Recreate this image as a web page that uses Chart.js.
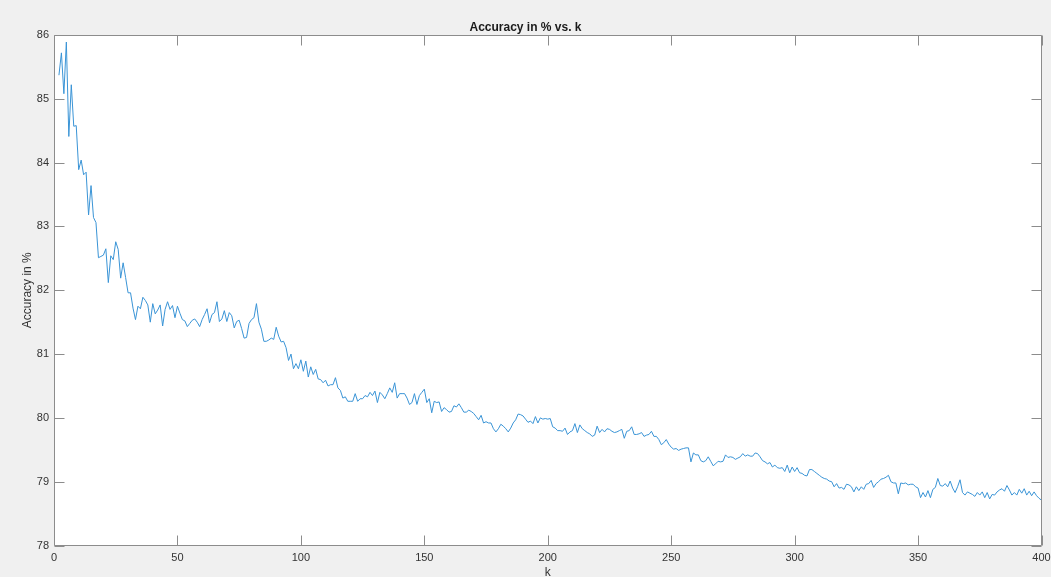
<!DOCTYPE html>
<html>
<head>
<meta charset="utf-8">
<title>Accuracy in % vs. k</title>
<script src="https://cdn.jsdelivr.net/npm/chart.js@4.4.1/dist/chart.umd.min.js"></script>
<style>
  html, body { margin: 0; padding: 0; background: #f0f0f0; }
  #wrap { width: 1051px; height: 577px; }
</style>
</head>
<body>
<div id="wrap"><canvas id="c" width="1051" height="577"></canvas></div>
<script>
// Classification accuracy (%) for each neighbour count k, starting at k = 2
const kStart = 2;
const accuracy = [
  85.37, 85.72, 85.08, 85.89, 84.41, 85.22, 84.57, 84.58, 83.89,
  84.04, 83.81, 83.85, 83.18, 83.64, 83.14, 83.06, 82.51, 82.53, 82.55,
  82.65, 82.12, 82.54, 82.48, 82.76, 82.64, 82.19, 82.43, 82.20, 81.96,
  81.96, 81.72, 81.54, 81.75, 81.71, 81.89, 81.84, 81.77, 81.50, 81.79,
  81.63, 81.69, 81.77, 81.44, 81.70, 81.82, 81.70, 81.76, 81.57, 81.75,
  81.64, 81.54, 81.52, 81.43, 81.48, 81.53, 81.55, 81.50, 81.43, 81.54,
  81.62, 81.71, 81.49, 81.62, 81.65, 81.82, 81.51, 81.55, 81.68, 81.51,
  81.65, 81.60, 81.41, 81.51, 81.53, 81.40, 81.25, 81.26, 81.48, 81.54,
  81.57, 81.79, 81.50, 81.39, 81.20, 81.20, 81.22, 81.25, 81.23, 81.42,
  81.28, 81.19, 81.20, 81.10, 80.90, 81.00, 80.77, 80.85, 80.77, 80.91,
  80.73, 80.89, 80.64, 80.80, 80.68, 80.76, 80.61, 80.60, 80.55, 80.59,
  80.50, 80.52, 80.52, 80.63, 80.47, 80.43, 80.31, 80.33, 80.26, 80.26,
  80.26, 80.38, 80.26, 80.30, 80.30, 80.35, 80.33, 80.40, 80.35, 80.42,
  80.24, 80.40, 80.36, 80.30, 80.38, 80.47, 80.40, 80.55, 80.31, 80.38,
  80.38, 80.38, 80.31, 80.21, 80.24, 80.38, 80.21, 80.35, 80.40, 80.45,
  80.24, 80.30, 80.08, 80.26, 80.24, 80.25, 80.10, 80.16, 80.13, 80.09,
  80.10, 80.19, 80.17, 80.22, 80.16, 80.09, 80.09, 80.12, 80.10, 80.07,
  80.02, 79.97, 80.04, 79.92, 79.94, 79.92, 79.92, 79.83, 79.78, 79.83,
  79.90, 79.87, 79.83, 79.78, 79.84, 79.92, 79.97, 80.06, 80.05, 80.03,
  79.98, 79.93, 79.95, 79.91, 80.02, 79.92, 80.00, 79.98, 79.99, 79.98,
  79.99, 79.86, 79.84, 79.80, 79.80, 79.79, 79.84, 79.74, 79.78, 79.80,
  79.91, 79.77, 79.89, 79.83, 79.80, 79.77, 79.75, 79.71, 79.73, 79.87,
  79.77, 79.82, 79.78, 79.83, 79.82, 79.79, 79.77, 79.78, 79.80, 79.82,
  79.68, 79.79, 79.80, 79.86, 79.74, 79.74, 79.75, 79.77, 79.71, 79.73,
  79.74, 79.79, 79.71, 79.71, 79.66, 79.58, 79.61, 79.66, 79.59, 79.54,
  79.51, 79.52, 79.49, 79.51, 79.52, 79.53, 79.53, 79.31, 79.45, 79.42,
  79.42, 79.33, 79.31, 79.33, 79.39, 79.32, 79.25, 79.28, 79.32, 79.31,
  79.32, 79.42, 79.38, 79.39, 79.38, 79.35, 79.37, 79.39, 79.44, 79.40,
  79.42, 79.40, 79.40, 79.45, 79.44, 79.39, 79.33, 79.31, 79.28, 79.30,
  79.23, 79.26, 79.22, 79.21, 79.22, 79.16, 79.26, 79.14, 79.23, 79.16,
  79.22, 79.14, 79.13, 79.10, 79.09, 79.19, 79.19, 79.16, 79.13, 79.10,
  79.07, 79.05, 79.04, 79.01, 79.00, 78.92, 78.97, 78.90, 78.91, 78.88,
  78.96, 78.95, 78.92, 78.84, 78.92, 78.86, 78.92, 78.88, 78.96, 78.97,
  79.02, 78.91, 78.97, 79.00, 79.04, 79.05, 79.07, 79.10, 79.00, 78.98,
  78.98, 78.81, 78.98, 78.97, 78.98, 78.95, 78.96, 78.96, 78.92, 78.90,
  78.75, 78.83, 78.76, 78.86, 78.75, 78.88, 78.91, 79.05, 78.94, 78.93,
  78.97, 78.92, 79.01, 78.90, 78.83, 78.92, 79.03, 78.83, 78.79, 78.84,
  78.82, 78.80, 78.77, 78.83, 78.79, 78.84, 78.75, 78.83, 78.73, 78.80,
  78.79, 78.84, 78.87, 78.89, 78.85, 78.94, 78.87, 78.79, 78.83, 78.79,
  78.88, 78.82, 78.89, 78.79, 78.85, 78.78, 78.84, 78.78, 78.74, 78.71
];
const kValues = accuracy.map((_, i) => kStart + i);

// Axis ranges and tick spacing
const xRange = [0, 400];
const xStep = 50;
const yRange = [78, 86];
const yStep = 1;

const FONT = '"Liberation Sans", Arial, Helvetica, sans-serif';
const TEXT = '#333333';
const AXIS = '#8c8c8c';

// Grey figure background, white axes box, and a boxed frame with inward ticks on all sides
const boxedAxes = {
  id: 'boxedAxes',
  beforeDraw(chart) {
    const { ctx, chartArea: a, width, height } = chart;
    ctx.save();
    ctx.fillStyle = '#f0f0f0';
    ctx.fillRect(0, 0, width, height);
    ctx.fillStyle = '#ffffff';
    ctx.fillRect(a.left, a.top, a.right - a.left, a.bottom - a.top);
    ctx.restore();
  },
  afterDraw(chart) {
    const { ctx, chartArea: a, scales } = chart;
    const L = Math.round(a.left) + 0.5, R = Math.round(a.right) - 0.5;
    const T = Math.round(a.top) + 0.5, B = Math.round(a.bottom) - 0.5;
    const len = 10;
    ctx.save();
    ctx.strokeStyle = AXIS;
    ctx.lineWidth = 1;
    ctx.beginPath();
    ctx.rect(L, T, R - L, B - T);
    scales.x.ticks.forEach(t => {
      const px = Math.round(scales.x.getPixelForValue(t.value)) + 0.5;
      ctx.moveTo(px, B); ctx.lineTo(px, B - len);
      ctx.moveTo(px, T); ctx.lineTo(px, T + len);
    });
    scales.y.ticks.forEach(t => {
      const py = Math.round(scales.y.getPixelForValue(t.value)) + 0.5;
      ctx.moveTo(L, py); ctx.lineTo(L + len, py);
      ctx.moveTo(R, py); ctx.lineTo(R - len, py);
    });
    ctx.stroke();
    ctx.restore();
  }
};

new Chart(document.getElementById('c'), {
  type: 'line',
  data: {
    datasets: [{
      data: kValues.map((k, i) => ({ x: k, y: accuracy[i] })),
      borderColor: '#3a94d6',
      borderWidth: 1,
      pointRadius: 0,
      tension: 0,
      fill: false
    }]
  },
  options: {
    responsive: false,
    animation: false,
    devicePixelRatio: 1,
    layout: { padding: { left: 0, right: 0, top: 0, bottom: 0 } },
    plugins: {
      legend: { display: false },
      tooltip: { enabled: false },
      title: {
        display: true,
        text: 'Accuracy in % vs. k',
        color: '#1a1a1a',
        font: { family: FONT, size: 12, weight: 'bold', lineHeight: 1.1 },
        padding: { top: 21, bottom: 0.8 }
      }
    },
    scales: {
      x: {
        type: 'linear',
        min: xRange[0], max: xRange[1],
        grid: { display: false, drawTicks: false },
        border: { display: false },
        ticks: { stepSize: xStep, color: TEXT, padding: 6, maxRotation: 0,
                 font: { family: FONT, size: 11 } },
        title: { display: true, text: 'k', color: TEXT,
                 font: { family: FONT, size: 12, lineHeight: 1 },
                 padding: { top: 0, bottom: -2 } },
        afterFit(scale) {
          scale.height = 31.5;
          scale.paddingRight = 9.5;
        }
      },
      y: {
        type: 'linear',
        min: yRange[0], max: yRange[1],
        grid: { display: false, drawTicks: false },
        border: { display: false },
        ticks: { stepSize: yStep, color: TEXT, padding: 5,
                 font: { family: FONT, size: 11 } },
        title: { display: true, text: 'Accuracy in %', color: TEXT,
                 font: { family: FONT, size: 12, lineHeight: 1.2 },
                 padding: { top: 20, bottom: 0 } },
        afterFit(scale) { scale.width = 54; }
      }
    }
  },
  plugins: [boxedAxes]
});
</script>
</body>
</html>
